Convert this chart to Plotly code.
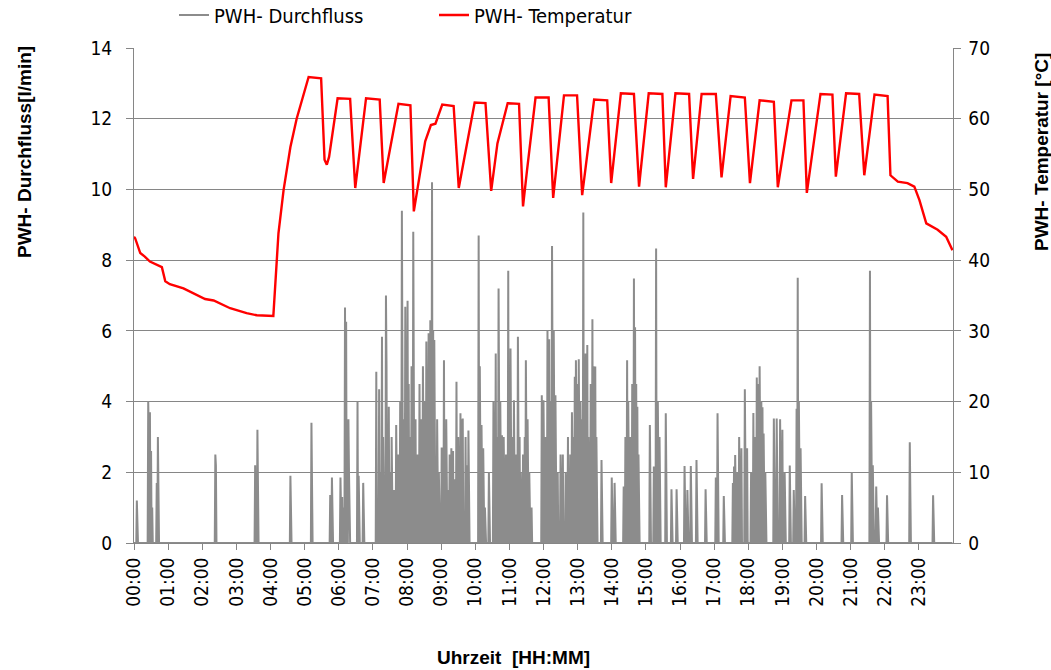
import numpy as np
import plotly.graph_objects as go

# ---- data (time in minutes after midnight) ----
flow_minutes = [5, 25, 26, 28, 30, 32, 40, 42, 143, 144, 213, 215, 217, 275, 312, 313,
                345, 348, 363, 366, 368, 371, 373, 375, 377, 378, 393, 395, 403,
                426, 428, 431, 433, 436, 438, 443, 444, 448, 450, 453, 457, 461, 465, 468,
                471, 474, 477, 481, 483, 486, 488, 491, 495, 498, 502, 505, 508, 511, 514,
                518, 521, 524, 526, 528, 533, 536, 541, 545, 549, 552, 555, 558, 561, 563,
                567, 570, 574, 576, 578, 583, 585, 588,
                606, 608, 611, 614, 617, 624, 632, 636, 638, 641, 644, 647, 650, 654, 658,
                660, 662, 665, 668, 672, 675, 678, 680, 684, 687, 689, 692, 695, 699,
                717, 720, 724, 727, 730, 732, 735, 738, 741, 745, 750, 754, 759, 763, 767,
                770, 773, 775, 777, 780, 782, 785, 788, 790, 792, 794, 797, 799, 803, 806,
                808, 811, 813, 822, 840, 845, 861, 864, 867, 869, 873, 876, 879, 881, 883,
                885, 887, 907, 914, 918, 921, 924, 935, 945, 954, 968, 973, 979, 989, 1005,
                1023, 1026, 1037, 1053, 1055, 1057, 1061, 1064, 1068, 1074, 1078, 1085, 1089,
                1092, 1095, 1098, 1100, 1103, 1105, 1107, 1110, 1125, 1130, 1136, 1140, 1144,
                1153, 1160, 1165, 1167, 1169, 1172, 1180, 1209, 1245, 1262, 1294, 1296, 1299,
                1305, 1308, 1324, 1364, 1405]
flow_values = [1.2, 4.0, 3.1, 3.7, 2.6, 1.0, 1.7, 3.0, 2.5, 2.2, 2.2, 1.0, 3.2, 1.9, 3.4, 0.5,
               1.36, 1.85, 1.85, 1.3, 1.0, 6.66, 6.26, 1.5, 3.5, 2.0, 4.0, 1.9, 1.7,
               4.84, 1.0, 4.35, 2.0, 5.83, 3.0, 7.0, 5.0, 3.85, 2.0, 3.0, 1.5, 3.34, 2.5, 4.0,
               9.4, 3.5, 6.68, 6.85, 4.5, 3.0, 5.0, 8.8, 3.5, 2.5, 4.5, 3.5, 5.0, 4.0, 5.7,
               5.93, 6.3, 10.2, 6.0, 5.74, 3.5, 2.0, 2.7, 5.17, 3.5, 1.5, 2.5, 2.68, 2.6, 1.8,
               4.56, 3.0, 3.67, 3.5, 3.52, 3.0, 2.2, 3.18,
               8.7, 5.0, 3.34, 2.68, 1.0, 2.0, 4.0, 5.36, 3.0, 7.2, 4.0, 3.05, 3.0, 2.5, 7.7,
               3.0, 5.5, 3.0, 4.04, 2.5, 5.83, 3.0, 2.0, 2.5, 3.0, 5.17, 3.5, 2.0, 1.0,
               4.18, 4.04, 3.0, 6.0, 5.76, 4.0, 8.4, 6.0, 4.18, 2.0, 2.5, 2.5, 2.0, 3.0, 2.5,
               3.7, 3.0, 4.7, 5.17, 4.5, 5.2, 4.0, 3.5, 9.35, 4.0, 5.36, 5.6, 3.0, 4.5, 6.33,
               5.0, 4.99, 3.0, 2.35, 1.85, 1.7, 1.6, 3.0, 5.17, 4.0, 3.0, 4.5, 7.48, 6.1, 4.5,
               3.85, 2.5, 3.34, 2.16, 8.33, 4.0, 3.0, 3.67, 1.52, 1.52, 2.18, 1.5, 2.18, 2.35, 1.52,
               1.85, 3.67, 1.33, 1.7, 2.16, 2.49, 2.0, 3.0, 2.68, 4.35, 2.68, 2.0, 3.68,
               3.0, 4.68, 4.5, 5.0, 4.0, 3.84, 3.1, 2.0, 3.52, 3.52, 3.5, 3.2, 2.0,
               2.19, 1.5, 3.8, 7.5, 4.0, 2.68, 1.33, 1.69, 1.36, 2.0, 7.7, 4.0, 2.2,
               1.6, 1.0, 1.35, 2.85, 1.35]

temp_minutes = [0, 2, 11, 19, 28, 49, 55, 63, 87, 104, 125, 140, 169, 198, 216, 245,
                254, 263, 275, 286, 307, 329, 335, 339, 343, 358, 380, 389, 408, 432, 439,
                465, 486, 492, 504, 512, 522, 530, 542, 562, 571, 586, 599, 618, 628, 639,
                657, 677, 684, 691, 706, 729, 737, 756, 779, 788, 809, 832, 839, 856, 879,
                888, 905, 929, 935, 952, 976, 983, 998, 1023, 1033, 1049, 1074, 1083, 1100,
                1125, 1132, 1156, 1177, 1183, 1207, 1228, 1234, 1252, 1275, 1284, 1302, 1325,
                1330, 1343, 1360, 1372, 1381, 1393, 1413, 1428, 1439]
temp_values = [43.3, 43.1, 41.0, 40.5, 39.8, 39.0, 37.0, 36.6, 36.0, 35.3, 34.5, 34.3, 33.2,
               32.5, 32.2, 32.1, 43.8, 49.9, 56.0, 60.0, 65.9, 65.7, 54.2, 53.5, 54.6, 62.9,
               62.8, 50.2, 62.9, 62.7, 50.9, 62.1, 61.9, 46.9, 53.2, 56.8, 59.1, 59.3, 62.0,
               61.8, 50.2, 57.0, 62.3, 62.2, 49.8, 56.5, 62.2, 62.1, 47.6, 52.7, 63.0, 63.0,
               48.8, 63.3, 63.3, 49.2, 62.7, 62.6, 50.9, 63.6, 63.5, 50.4, 63.6, 63.5, 50.3,
               63.6, 63.5, 51.5, 63.5, 63.5, 51.7, 63.2, 63.0, 50.9, 62.6, 62.4, 50.3, 62.6,
               62.6, 49.5, 63.5, 63.4, 51.8, 63.6, 63.5, 52.0, 63.4, 63.2, 52.0, 51.1, 50.9,
               50.4, 48.5, 45.2, 44.3, 43.3, 41.4]

tick_labels = ["%02d:00" % h for h in range(24)]
temp_ticks = [0, 10, 20, 30, 40, 50, 60, 70]

# ---- build per-minute flow series ----
minutes = np.arange(1440)
flow = np.zeros(1440)
flow[np.array(flow_minutes)] = flow_values

NARROW = "DejaVu Sans Condensed, Liberation Sans Narrow, sans-serif"
BOLD = "Liberation Sans, Arial, sans-serif"
GRID = "#868686"

W, H = 1051, 670
L, R, T, B = 134, 98, 48, 127
PW, PH = W - L - R, H - T - B

fig = go.Figure()
fig.add_trace(go.Scatter(x=minutes, y=flow, mode="lines", name="PWH- Durchfluss",
                         line=dict(color="#8c8c8c", width=2)))
fig.add_trace(go.Scatter(x=temp_minutes, y=temp_values, mode="lines", name="PWH- Temperatur",
                         line=dict(color="#ff0000", width=2.4), yaxis="y2"))

fig.update_layout(
    width=W, height=H, template="none",
    paper_bgcolor="white", plot_bgcolor="white",
    margin=dict(l=L, r=R, t=T, b=B, autoexpand=False),
    font=dict(family=NARROW, size=19, color="black"),
    showlegend=True,
    legend=dict(orientation="h", xref="container", yref="container",
                x=174 / W, xanchor="left", y=1 - 15 / H, yanchor="middle",
                entrywidth=215, entrywidthmode="pixels", itemwidth=30,
                font=dict(family=NARROW, size=20), bgcolor="rgba(0,0,0,0)"),
    xaxis=dict(range=[0, 1440], tickmode="array", tickvals=[60 * h for h in range(24)],
               ticktext=tick_labels, tickangle=-90, ticks="outside", ticklen=6,
               tickcolor=GRID, showline=True, linecolor=GRID, linewidth=1,
               showgrid=False, zeroline=False, mirror=False, automargin=False),
    yaxis=dict(range=[0, 14], dtick=2, showgrid=True, gridcolor=GRID, gridwidth=1,
               ticks="outside", ticklen=7, tickcolor=GRID, showline=True, linecolor=GRID,
               mirror="ticks", zeroline=False, automargin=False, ticklabelstandoff=10),
    yaxis2=dict(range=[0, 70], tickmode="array", tickvals=temp_ticks,
                ticktext=["\u2007\u2009" + str(v) for v in temp_ticks],
                overlaying="y", side="right", showgrid=False,
                ticks="", showline=False, zeroline=False, automargin=False),
    annotations=[
        dict(text="<b>PWH- Durchfluss[l/min]</b>", xref="paper", yref="paper",
             x=(24 - L) / PW, y=(H - B - 152) / PH, textangle=-90, showarrow=False,
             xanchor="center", yanchor="middle", font=dict(family=BOLD, size=19)),
        dict(text="<b>PWH- Temperatur [°C]</b>", xref="paper", yref="paper",
             x=(1041 - L) / PW, y=(H - B - 152) / PH, textangle=-90, showarrow=False,
             xanchor="center", yanchor="middle", font=dict(family=BOLD, size=19)),
        dict(text="<b>Uhrzeit  [HH:MM]</b>", xref="paper", yref="paper",
             x=(513 - L) / PW, y=(H - B - 657) / PH, showarrow=False,
             xanchor="center", yanchor="middle", font=dict(family=BOLD, size=19)),
    ],
)

fig.write_html("out.html", config={"displayModeBar": False},
               post_script="document.body.style.margin='0';")
